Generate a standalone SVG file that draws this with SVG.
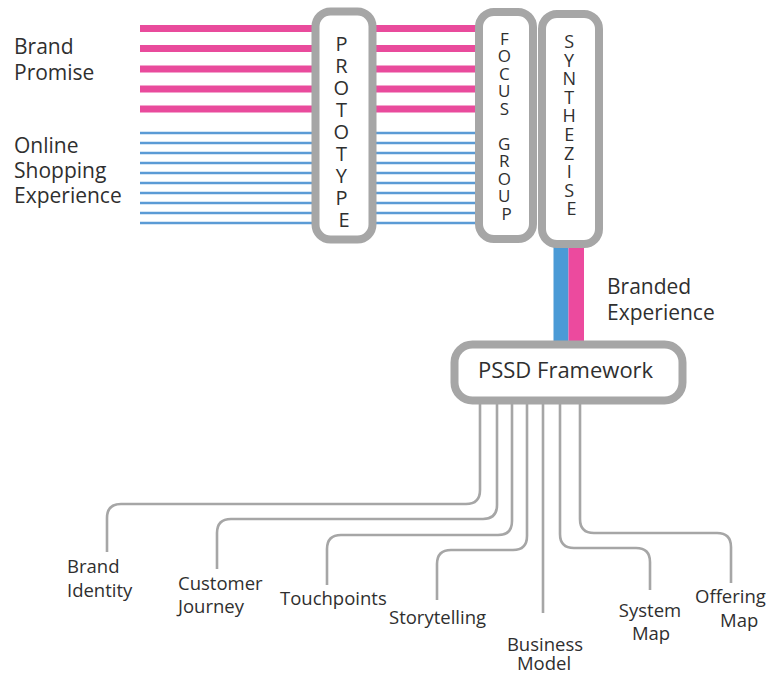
<svg xmlns="http://www.w3.org/2000/svg" width="771" height="675" viewBox="0 0 771 675">
  <style>
    text { font-family: "Open Sans", "Noto Sans", "DejaVu Sans", sans-serif; fill: #2f2f2f; }
    .lbl { font-size: 21px; }
    .small { font-size: 18.5px; }
    .pink { stroke: #E94B9C; stroke-width: 7; }
    .blue { stroke: #5B9BD5; stroke-width: 2.4; }
    .box { fill: #ffffff; stroke: #A6A6A6; stroke-width: 8; }
    .conn { fill: none; stroke: #A6A6A6; stroke-width: 2.6; }
  </style>

  <!-- incoming streams -->
  <g id="streams">
    <g id="brand-promise-lines">
      <line class="pink" x1="140" y1="28.5" x2="478" y2="28.5"/>
      <line class="pink" x1="140" y1="48.5" x2="478" y2="48.5"/>
      <line class="pink" x1="140" y1="69" x2="478" y2="69"/>
      <line class="pink" x1="140" y1="89" x2="478" y2="89"/>
      <line class="pink" x1="140" y1="109" x2="478" y2="109"/>
    </g>
    <g id="shopping-lines">
      <line class="blue" x1="140" y1="133" x2="478" y2="133"/>
      <line class="blue" x1="140" y1="143" x2="478" y2="143"/>
      <line class="blue" x1="140" y1="153" x2="478" y2="153"/>
      <line class="blue" x1="140" y1="163" x2="478" y2="163"/>
      <line class="blue" x1="140" y1="173" x2="478" y2="173"/>
      <line class="blue" x1="140" y1="183" x2="478" y2="183"/>
      <line class="blue" x1="140" y1="193" x2="478" y2="193"/>
      <line class="blue" x1="140" y1="203" x2="478" y2="203"/>
      <line class="blue" x1="140" y1="213" x2="478" y2="213"/>
      <line class="blue" x1="140" y1="223" x2="478" y2="223"/>
    </g>
    <!-- combined branded experience bar -->
    <g id="branded-bar">
      <rect x="553.5" y="235" width="15" height="112" fill="#4A9AD6"/>
      <rect x="568.5" y="235" width="15.5" height="112" fill="#EC4A9E"/>
    </g>
  </g>

  <g id="label-brand-promise">
    <text class="lbl" x="14" y="54">Brand</text>
    <text class="lbl" x="14" y="80">Promise</text>
  </g>
  <g id="label-online-shopping">
    <text class="lbl" x="14" y="153">Online</text>
    <text class="lbl" x="14" y="178">Shopping</text>
    <text class="lbl" x="14" y="203">Experience</text>
  </g>

  <g id="prototype">
    <rect class="box" x="315.5" y="11.5" width="57" height="228" rx="15"/>
    <text font-size="20" text-anchor="middle">
      <tspan x="344" y="50.5">P</tspan>
      <tspan x="344" y="72.5">R</tspan>
      <tspan x="344" y="94.5">O</tspan>
      <tspan x="344" y="116.5">T</tspan>
      <tspan x="344" y="138.5">O</tspan>
      <tspan x="344" y="160.5">T</tspan>
      <tspan x="344" y="182.5">Y</tspan>
      <tspan x="344" y="204.5">P</tspan>
      <tspan x="344" y="226.5">E</tspan>
    </text>
  </g>

  <g id="focus-group">
    <rect class="box" x="479" y="12" width="54" height="227" rx="15"/>
    <text font-size="17" text-anchor="middle">
      <tspan x="506.5" y="44.5">F</tspan>
      <tspan x="506.5" y="62">O</tspan>
      <tspan x="506.5" y="79.5">C</tspan>
      <tspan x="506.5" y="97">U</tspan>
      <tspan x="506.5" y="114.5">S</tspan>
      <tspan x="506.5" y="149.5">G</tspan>
      <tspan x="506.5" y="167">R</tspan>
      <tspan x="506.5" y="184.5">O</tspan>
      <tspan x="506.5" y="202">U</tspan>
      <tspan x="506.5" y="219.5">P</tspan>
    </text>
  </g>

  <g id="synthezise">
    <rect class="box" x="542" y="14" width="57" height="230" rx="15"/>
    <text font-size="18" text-anchor="middle">
      <tspan x="571.5" y="48">S</tspan>
      <tspan x="571.5" y="66.6">Y</tspan>
      <tspan x="571.5" y="85.2">N</tspan>
      <tspan x="571.5" y="103.8">T</tspan>
      <tspan x="571.5" y="122.4">H</tspan>
      <tspan x="571.5" y="141">E</tspan>
      <tspan x="571.5" y="159.6">Z</tspan>
      <tspan x="571.5" y="178.2">I</tspan>
      <tspan x="571.5" y="196.8">S</tspan>
      <tspan x="571.5" y="215.4">E</tspan>
    </text>
  </g>

  <g id="label-branded-experience">
    <text class="lbl" x="607" y="294">Branded</text>
    <text class="lbl" x="607" y="320">Experience</text>
  </g>

  <!-- branches out of the framework -->
  <g id="connectors">
    <path class="conn" d="M480 400 V490 Q480 504 466 504 H121 Q107 504 107 518 V552"/>
    <path class="conn" d="M497 400 V505 Q497 519 483 519 H231 Q217 519 217 533 V569"/>
    <path class="conn" d="M512 400 V521 Q512 535 498 535 H341 Q327 535 327 549 V585"/>
    <path class="conn" d="M527 400 V536 Q527 550 513 550 H451 Q437 550 437 564 V600"/>
    <path class="conn" d="M543 400 V613"/>
    <path class="conn" d="M560 400 V534 Q560 548 574 548 H636 Q650 548 650 562 V590"/>
    <path class="conn" d="M580 400 V519 Q580 533 594 533 H717 Q731 533 731 547 V583"/>
  </g>

  <g id="pssd-framework">
    <rect class="box" x="454.5" y="344.5" width="228" height="56" rx="18" stroke-width="9"/>
    <text x="478" y="378" font-size="22">PSSD Framework</text>
  </g>

  <g id="brand-identity">
    <text class="small" x="67" y="573">Brand</text>
    <text class="small" x="67" y="597">Identity</text>
  </g>
  <g id="customer-journey">
    <text class="small" x="178" y="590">Customer</text>
    <text class="small" x="178" y="613">Journey</text>
  </g>
  <g id="touchpoints">
    <text class="small" x="280" y="605">Touchpoints</text>
  </g>
  <g id="storytelling">
    <text class="small" x="389" y="624">Storytelling</text>
  </g>
  <g id="business-model">
    <text class="small" x="545" y="651" text-anchor="middle">Business</text>
    <text class="small" x="544" y="670" text-anchor="middle">Model</text>
  </g>
  <g id="system-map">
    <text class="small" x="650" y="617" text-anchor="middle">System</text>
    <text class="small" x="651" y="640" text-anchor="middle">Map</text>
  </g>
  <g id="offering-map">
    <text class="small" x="695" y="603">Offering</text>
    <text class="small" x="720" y="627">Map</text>
  </g>
</svg>
